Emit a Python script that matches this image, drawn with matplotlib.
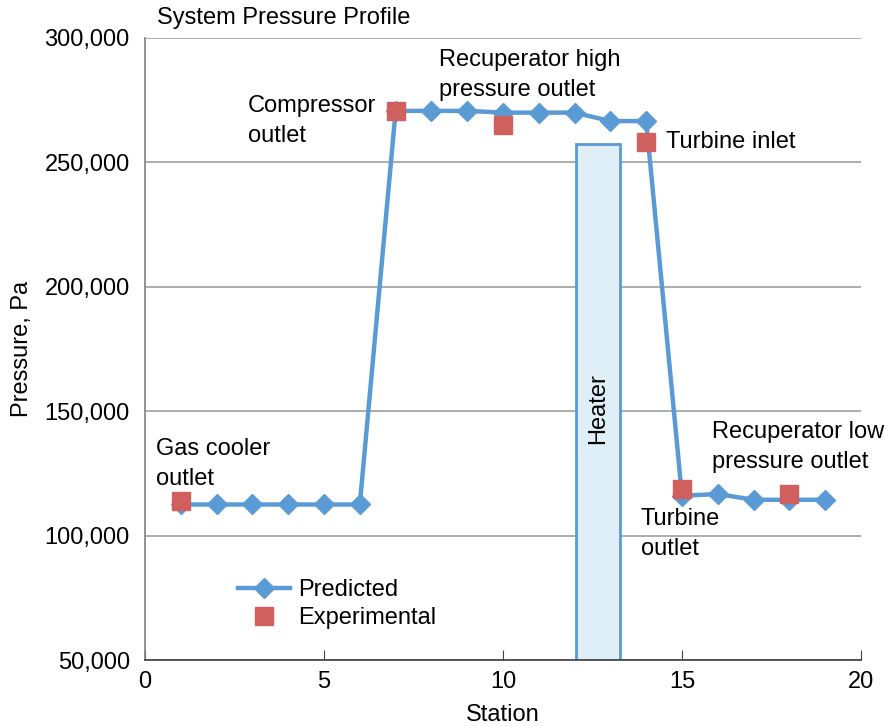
import matplotlib
matplotlib.use('Agg')
import matplotlib.pyplot as plt
from matplotlib.patches import Rectangle
from matplotlib.ticker import FuncFormatter

plt.rcParams['font.family'] = ['Liberation Sans', 'DejaVu Sans']

# data
stations = list(range(1, 20))
predicted = [112500, 112500, 112500, 112500, 112500, 112500,
             270700, 270700, 270700, 270000, 270000, 270000,
             266600, 266600, 116000, 116700, 114400, 114400, 114400]
exp_stations = [1, 7, 10, 14, 15, 18]
experimental = [113900, 270700, 265000, 258000, 118600, 116800]

heater_x = [12.05, 13.27]
heater_top = 257500

blue = '#5B9BD5'
red = '#D0605E'

fig = plt.figure(figsize=(8.92, 7.26), dpi=100)
ax = fig.add_axes([0.1626, 0.0909, 0.8026, 0.8568])

ax.set_xlim(0, 20)
ax.set_ylim(50000, 300000)
ax.set_xticks([0, 5, 10, 15, 20])
ax.set_yticks([50000, 100000, 150000, 200000, 250000, 300000])
ax.yaxis.set_major_formatter(FuncFormatter(lambda v, p: f'{int(v):,}'))

ax.grid(axis='y', color='#A6A6A6', linewidth=1.3)
ax.set_axisbelow(True)
for s in ['top', 'right']:
    ax.spines[s].set_visible(False)
ax.spines['left'].set_color('#7F7F7F')
ax.spines['bottom'].set_color('#404040')
ax.spines['left'].set_linewidth(1.2)
ax.spines['bottom'].set_linewidth(1.2)
ax.tick_params(axis='y', length=0, labelsize=17, pad=11)
ax.tick_params(axis='x', direction='in', length=7, color='#404040', labelsize=17, pad=8)

# heater box
ax.add_patch(Rectangle((heater_x[0], 50000), heater_x[1] - heater_x[0], heater_top - 50000,
                       facecolor='#DEEFF7', edgecolor=blue, linewidth=2, zorder=2))
ax.text(sum(heater_x) / 2, 151000, 'Heater', rotation=90, ha='center', va='center',
        fontsize=17, zorder=3)

ax.plot(stations, predicted, color=blue, linewidth=3.2, marker='D', markersize=10,
        label='Predicted', zorder=4)
ax.plot(exp_stations, experimental, linestyle='none', marker='s', markersize=13,
        color=red, label='Experimental', zorder=5)

fs = 17
ls = 1.45
ax.text(0.32, 128800, 'Gas cooler\noutlet', fontsize=fs, va='center', linespacing=ls)
ax.text(2.87, 266600, 'Compressor\noutlet', fontsize=fs, va='center', linespacing=ls)
ax.text(8.2, 285100, 'Recuperator high\npressure outlet', fontsize=fs, va='center', linespacing=ls)
ax.text(14.55, 258200, 'Turbine inlet', fontsize=fs, va='center')
ax.text(13.85, 100600, 'Turbine\noutlet', fontsize=fs, va='center', linespacing=ls)
ax.text(15.85, 135600, 'Recuperator low\npressure outlet', fontsize=fs, va='center', linespacing=ls)

ax.set_xlabel('Station', fontsize=17, labelpad=8)
ax.set_ylabel('Pressure, Pa', fontsize=17, labelpad=8)
fig.text(0.176, 0.975, 'System Pressure Profile', fontsize=17, va='center')

ax.legend(loc='lower left', bbox_to_anchor=(0.1, 0.016), frameon=False, fontsize=17,
          handlelength=2.2, handletextpad=0.35, labelspacing=0.25)

fig.savefig('out.png', dpi=100)
